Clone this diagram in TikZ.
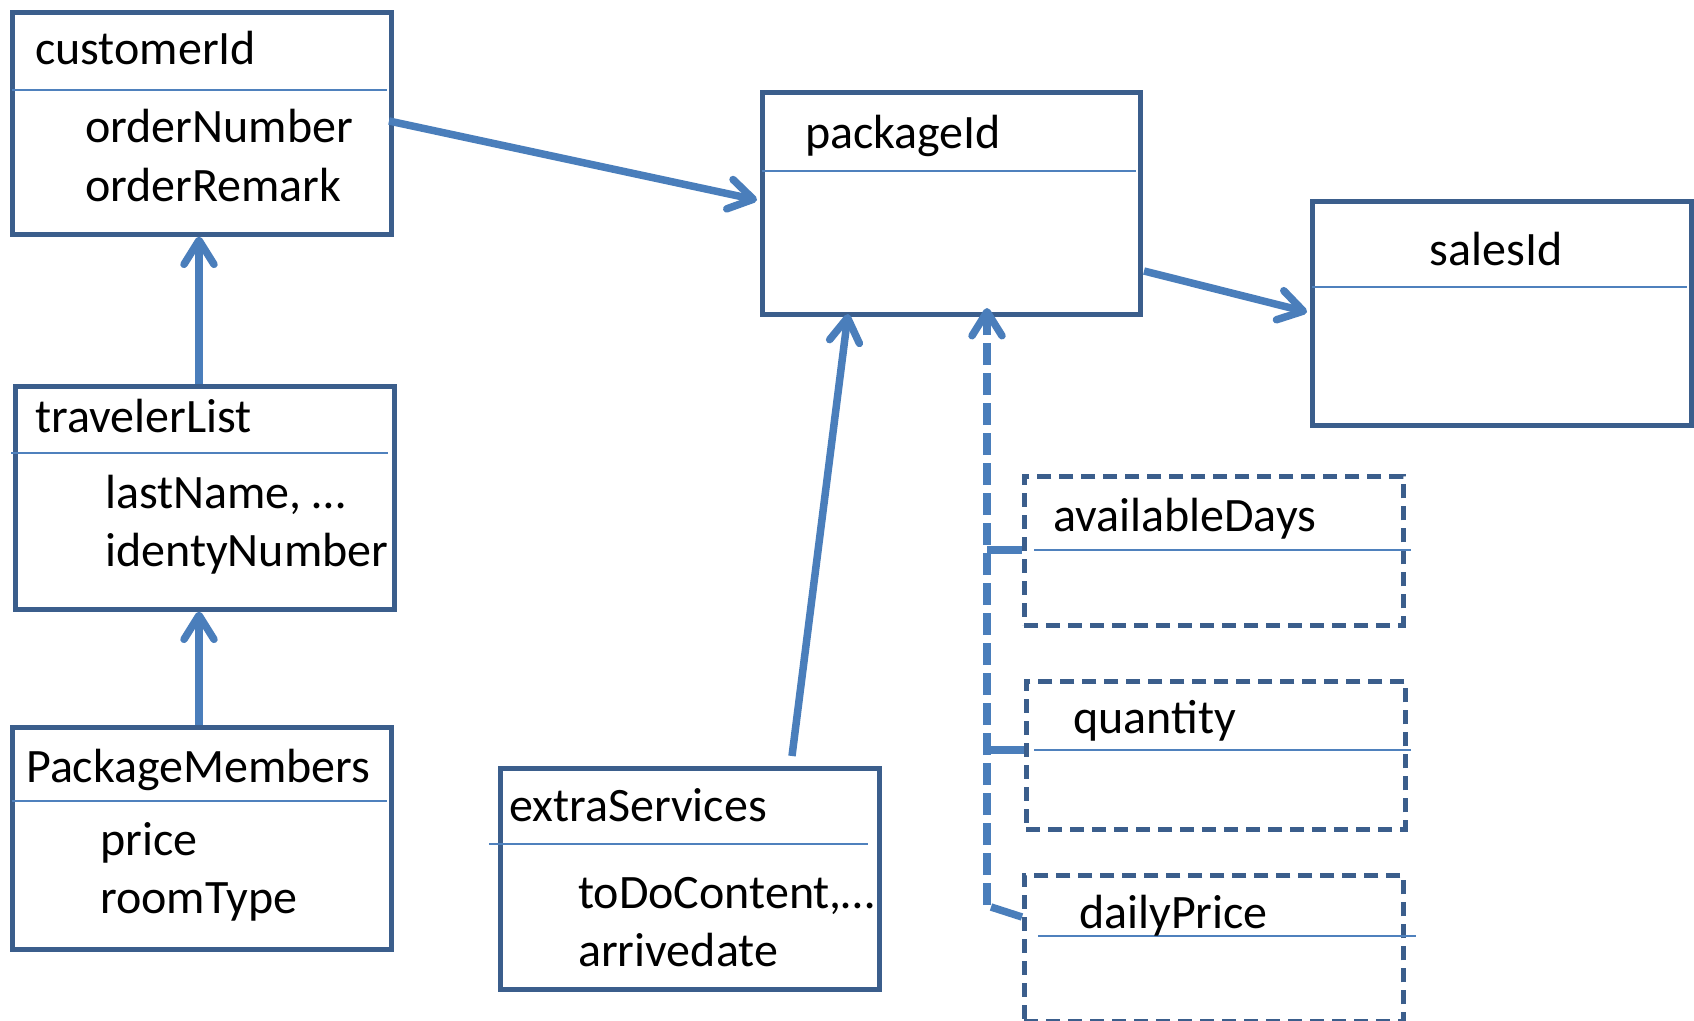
\documentclass[tikz,border=0pt]{standalone}
\usepackage{fontspec}
\setmainfont{Carlito}
\usetikzlibrary{arrows.meta}
\definecolor{boxline}{HTML}{3B5E8C}
\definecolor{conn}{HTML}{4A7EBB}
\definecolor{divline}{HTML}{4F81BD}
\tikzset{
  ent/.style={draw=boxline, line width=4.6pt, rectangle, anchor=north west, inner sep=0pt},
  entdash/.style={ent, line width=4.8pt, dash pattern=on 14pt off 8pt},
  divider/.style={draw=divline, line width=1.6pt},
  lbl/.style={anchor=base west, inner sep=0pt, font=\fontsize{48}{57}\selectfont},
  link/.style={draw=conn, line width=7.5pt, -{Straight Barb[length=24pt,width=30pt,round]}},
  linkdash/.style={link, dash pattern=on 22pt off 8pt},
  branch/.style={draw=conn, line width=7.5pt}
}
\begin{document}
\begin{tikzpicture}[x=1pt,y=-1pt]
\useasboundingbox[fill=white] (0,0) rectangle (1694,1020);

% customerId
\node[ent, minimum width=379pt, minimum height=222pt] (cu) at (10,10) {};
\draw[divider] (12,90) -- (387,90);
\node[lbl] (cut) at (35,64) {customerId};
\node[lbl] (cua) at (85,142) {orderNumber};
\node[lbl] (cub) at (85,201) {orderRemark};

% travelerList
\node[ent, minimum width=379pt, minimum height=223pt] (tl) at (13,384) {};
\draw[divider] (11,453) -- (388,453);
\node[lbl] (tlt) at (35,432) {travelerList};
\node[lbl] (tla) at (105,508) {lastName, …};
\node[lbl] (tlb) at (105,566) {identyNumber};

% PackageMembers
\node[ent, minimum width=379pt, minimum height=222pt] (pm) at (10,725) {};
\draw[divider] (12,801) -- (387,801);
\node[lbl] (pmt) at (26,782) {PackageMembers};
\node[lbl] (pma) at (100,855) {price};
\node[lbl] (pmb) at (100,913) {roomType};

% extraServices
\node[ent, minimum width=379pt, minimum height=221pt] (es) at (498,766) {};
\draw[divider] (489,844) -- (868,844);
\node[lbl] (est) at (509,821) {extraServices};
\node[lbl] (esa) at (578,908) {toDoContent,…};
\node[lbl] (esb) at (578,966) {arrivedate};

% packageId
\node[ent, minimum width=378pt, minimum height=222pt] (pk) at (760,90) {};
\draw[divider] (762,171) -- (1136,171);
\node[lbl] (pkt) at (805,148) {packageId};

% salesId
\node[ent, minimum width=379pt, minimum height=224pt] (sa) at (1310,199) {};
\draw[divider] (1312,287) -- (1687,287);
\node[lbl, anchor=base] (sat) at (1496,265) {salesId};

% availableDays
\node[entdash, minimum width=379pt, minimum height=149pt] (ad) at (1022,474) {};
\draw[divider] (1034,550) -- (1411,550);
\node[lbl] (adt) at (1053,531) {availableDays};

% quantity
\node[entdash, minimum width=379pt, minimum height=148pt] (qt) at (1024,679) {};
\draw[divider] (1034,750) -- (1411,750);
\node[lbl] (qtt) at (1073,733) {quantity};

% dailyPrice
\node[entdash, minimum width=379pt, minimum height=146pt] (dp) at (1022,873) {};
\draw[divider] (1038,936) -- (1416,936);
\node[lbl] (dpt) at (1079,928) {dailyPrice};

% connector end points
\coordinate (c1s) at (389,121);
\coordinate (c1e) at (757,200);
\coordinate (c4s) at (792,756);
\coordinate (c4e) at (848,314);
\coordinate (c5s) at (1144,271);
\coordinate (c5e) at (1307,312);
\coordinate (dvs) at (987,905);
\coordinate (dve) at (987,308);
\coordinate (b1s) at (987,550);
\coordinate (b1e) at (1022,550);
\coordinate (b2s) at (987,750);
\coordinate (b2e) at (1024,750);
\coordinate (b3s) at (991,907);
\coordinate (b3e) at (1022,917);

% connectors
\draw[link] (c1s) -- (c1e);
\draw[link] (tl.north -| 199,0) -- (cu.south -| 199,0);
\draw[link] (pm.north -| 199,0) -- (tl.south -| 199,0);
\draw[link] (c4s) -- (c4e);
\draw[link] (c5s) -- (c5e);
\draw[linkdash] (dvs) -- (dve);
\draw[branch] (b1s) -- (b1e);
\draw[branch] (b2s) -- (b2e);
\draw[branch] (b3s) -- (b3e);
\end{tikzpicture}
\end{document}
